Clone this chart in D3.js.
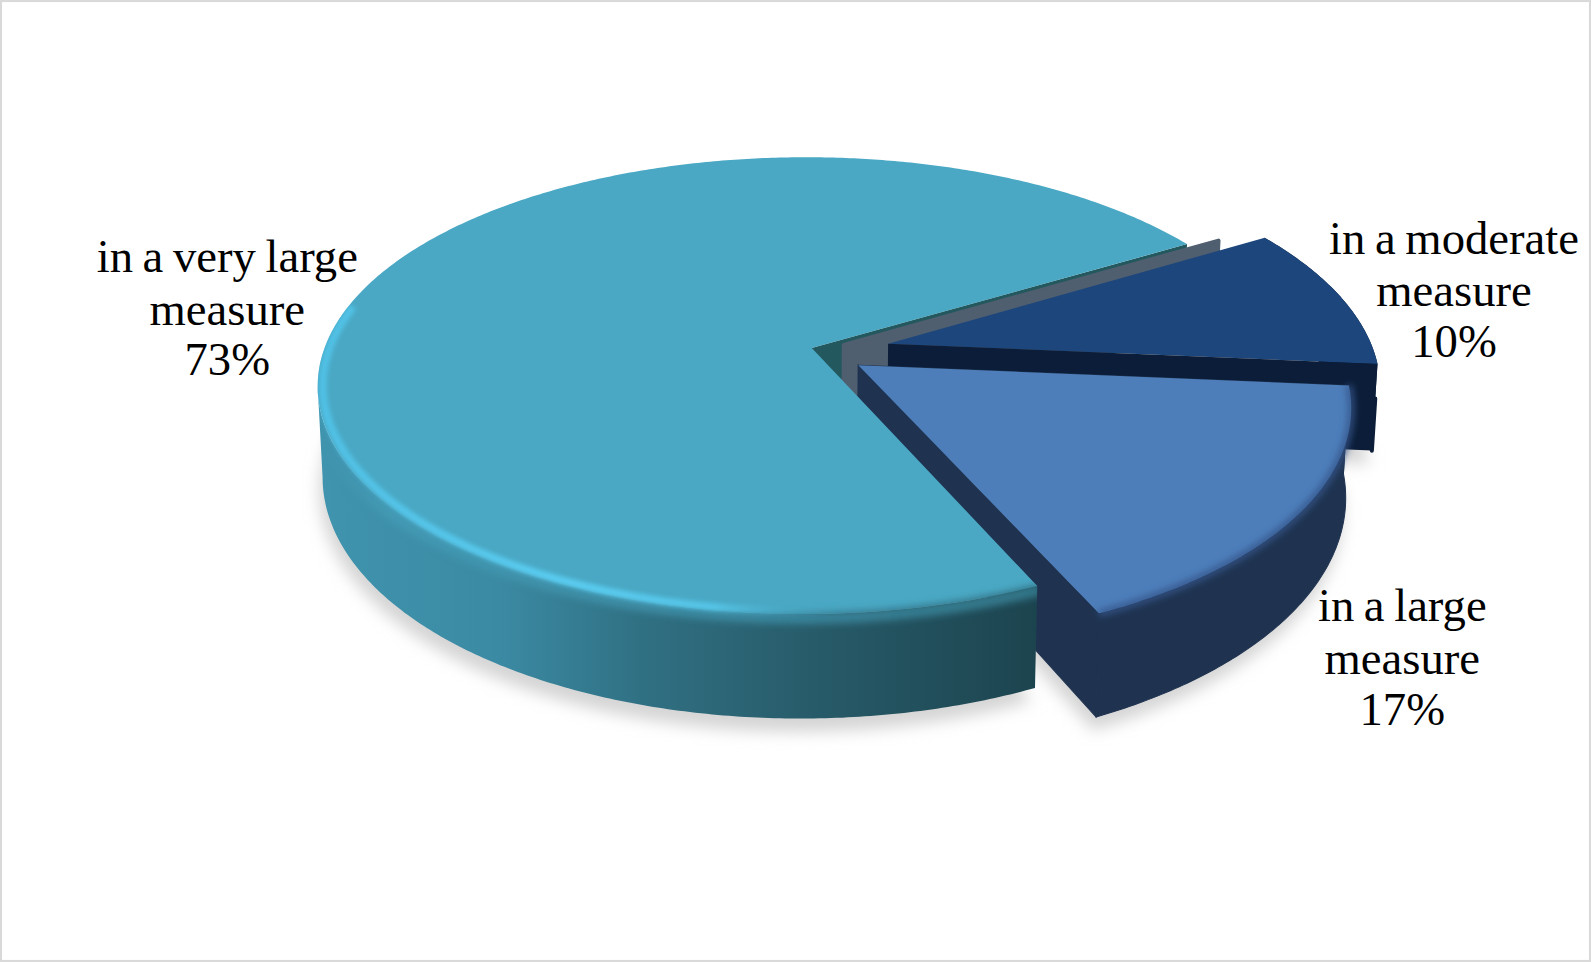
<!DOCTYPE html>
<html>
<head>
<meta charset="utf-8">
<script src="https://cdn.jsdelivr.net/npm/d3@7"></script>
<style>
	html, body { margin: 0; padding: 0; background: #fff; }
	svg { display: block; }
	text { font-family: "Liberation Serif", serif; font-size: 46px; fill: #000; text-anchor: middle; word-spacing: -2px; }
</style>
</head>
<body>
<svg id="chart"></svg>
<script>
var categories = ["in a very large measure", "", "in a moderate measure", "in a large measure"];
var values = [73, 0, 10, 17];

var labelLines = [
	["in a very large", "measure"],
	[],
	["in a moderate", "measure"],
	["in a large", "measure"]
];

// picture is laid out at 1568 wide, viewBox scales it to the window
var svg = d3.select("#chart")
	.attr("width", 1591)
	.attr("height", 963)
	.attr("viewBox", "0 0 1568 949");

// tilted disc: unit circle to screen with a bit of perspective
var cx = 800, cy = 343, ax = 473, by = 219, perspY = 0.1645, perspX = -0.015, depth = 86, shrink = 0.01;
var startDeg = 156.3;

// how far each slice is pulled out, in disc units, and its radius
var offsets = [
	{x: 0, y: 0, r: 1},
	{x: 0.067, y: -0.014, r: 1.01},
	{x: 0.16, y: -0.02, r: 1.03},
	{x: 0.096, y: 0.076, r: 1.015}
];
var labelPos = [
	{x: 224, y: 268},
	null,
	{x: 1433, y: 250},
	{x: 1382, y: 612}
];
var rowGaps = [0, 52, 102];

var topColors = ["#4aa8c4", "#4f5f70", "#1c467c", "#4d7eba"];
var sideColors = ["url(#mainSide)", "#4f5f70", "#0b1d38", "#1f3350"];
var wallColors = ["#24585f", "#4f5f70", "#0b1d38", "#1f3350"];

var pie = d3.pie()
	.sort(null)
	.startAngle(startDeg * Math.PI / 180)
	.endAngle((startDeg + 360) * Math.PI / 180);
var slices = pie(values);

function project(angle, r, off, z) {
	var X = off.x + r * off.r * Math.sin(angle);
	var Y = off.y - r * off.r * Math.cos(angle);
	var w = 1 - perspY * Y - perspX * X;
	return [
		cx + ax * X / w * (1 - shrink * z),
		cy + by * Y / w + z * depth / w
	];
}

function arcPoints(a0, a1, off, z, r) {
	var n = Math.max(2, Math.ceil(Math.abs(a1 - a0) / 0.01));
	return d3.range(n + 1).map(function(i) {
		return project(a0 + (a1 - a0) * i / n, r === undefined ? 1 : r, off, z);
	});
}

var line = d3.line();

function topPath(s, off) {
	return line([project(0, 0, off, 0)].concat(arcPoints(s.startAngle, s.endAngle, off, 0))) + "Z";
}
function footPath(s, off) {
	return line([project(0, 0, off, 1)].concat(arcPoints(s.startAngle, s.endAngle, off, 1))) + "Z";
}
function sidePath(a0, a1, off) {
	return line(arcPoints(a0, a1, off, 0).concat(arcPoints(a1, a0, off, 1))) + "Z";
}
function wallPath(angle, off) {
	return line([
		project(0, 0, off, 0),
		project(angle, 1, off, 0),
		project(angle, 1, off, 1),
		project(0, 0, off, 1)
	]) + "Z";
}

var defs = svg.append("defs");

function hGradient(id, stops) {
	var g = defs.append("linearGradient")
		.attr("id", id)
		.attr("gradientUnits", "userSpaceOnUse")
		.attr("x1", 315).attr("x2", 1022).attr("y1", 0).attr("y2", 0);
	stops.forEach(function(d) {
		g.append("stop").attr("offset", d[0]).attr("stop-color", d[1]).attr("stop-opacity", d[2] === undefined ? 1 : d[2]);
	});
}
hGradient("mainSide", [[0, "#4094ae"], [0.25, "#3b8aa3"], [0.45, "#307083"], [0.7, "#275a68"], [1, "#1c444f"]]);
hGradient("mainEdge", [[0, "#459ab5", 0], [0.1, "#439ab4"], [0.45, "#3c8ca4"], [0.7, "#388197"], [1, "#337689"]]);
hGradient("mainGlow", [[0, "#50c0e4"], [0.35, "#5accf0"], [0.55, "#55c4e6"], [0.72, "#4aa8c4", 0], [1, "#4aa8c4", 0]]);

function blur(id, dev) {
	defs.append("filter").attr("id", id)
		.attr("x", "-10%").attr("y", "-10%").attr("width", "120%").attr("height", "120%")
		.append("feGaussianBlur").attr("stdDeviation", dev);
}
blur("soft", 8);
blur("rimBlur", 3.5);
blur("glowBlur", 2.2);

// page frame
svg.append("rect")
	.attr("x", 1).attr("y", 1).attr("width", 1566).attr("height", 946)
	.attr("fill", "#fff").attr("stroke", "#d9d9d9").attr("stroke-width", 2);

// shadow under the pie
var shadow = svg.append("g")
	.attr("filter", "url(#soft)")
	.attr("transform", "translate(-3,13)");
[0, 2, 3].forEach(function(i) {
	shadow.append("path").attr("d", footPath(slices[i], offsets[i])).attr("fill", "#d4d4d4");
});

// walls at the back go first, main slice comes last so it covers the rest
svg.append("path").attr("d", wallPath(slices[0].endAngle, offsets[0])).attr("fill", wallColors[0]);
svg.append("path").attr("d", wallPath(slices[1].startAngle, offsets[1])).attr("fill", wallColors[1])
	.attr("stroke", wallColors[1]).attr("stroke-width", 4).attr("stroke-linejoin", "round");

// moderate slice, rounded lower corner like the bevel in the picture
var mod = slices[2], modOff = offsets[2];
svg.append("path").attr("d", sidePath(mod.startAngle, mod.endAngle, modOff)).attr("fill", sideColors[2]);
svg.append("path")
	.attr("d", line([project(mod.endAngle, 1, modOff, 0.4)].concat(arcPoints(mod.endAngle, mod.endAngle - 0.2, modOff, 1))))
	.attr("fill", "none").attr("stroke", sideColors[2]).attr("stroke-width", 4)
	.attr("stroke-linecap", "round").attr("stroke-linejoin", "round");
svg.append("path").attr("d", topPath(mod, modOff)).attr("fill", topColors[2]);
svg.append("path").attr("d", wallPath(mod.endAngle, modOff)).attr("fill", wallColors[2]);

// large slice
var big = slices[3], bigOff = offsets[3];
var bigBody = svg.append("g").attr("fill", wallColors[3]).attr("stroke", wallColors[3]).attr("stroke-width", 1);
bigBody.append("path").attr("d", wallPath(big.startAngle, bigOff));
bigBody.append("path").attr("d", wallPath(big.endAngle, bigOff));
bigBody.append("path").attr("d", sidePath(big.startAngle, big.endAngle, bigOff));
svg.append("path").attr("d", topPath(big, bigOff)).attr("fill", topColors[3]);
svg.append("path")
	.attr("d", line(arcPoints(big.startAngle, big.endAngle, bigOff, 0)))
	.attr("fill", "none").attr("stroke", "#34558a").attr("stroke-width", 6)
	.attr("filter", "url(#rimBlur)");

// main slice, side ends at the left silhouette point of the disc
var main = slices[0], mainOff = offsets[0];
var frontEnd = 260.5 * Math.PI / 180;
var mainClip = defs.append("clipPath").attr("id", "mainClip");
mainClip.append("path").attr("d", sidePath(main.startAngle, frontEnd, mainOff));
mainClip.append("path").attr("d", topPath(main, mainOff));

svg.append("path").attr("d", sidePath(main.startAngle, frontEnd, mainOff)).attr("fill", sideColors[0]);
svg.append("path").attr("d", topPath(main, mainOff)).attr("fill", topColors[0]);

var mainRim = svg.append("g").attr("clip-path", "url(#mainClip)");
mainRim.append("path")
	.attr("d", line(arcPoints(main.startAngle, 245 * Math.PI / 180, mainOff, 0, 1.012)))
	.attr("fill", "none").attr("stroke", "url(#mainEdge)").attr("stroke-width", 12)
	.attr("filter", "url(#rimBlur)");
mainRim.append("path")
	.attr("d", line(arcPoints(170 * Math.PI / 180, 281 * Math.PI / 180, mainOff, 0, 0.99)))
	.attr("fill", "none").attr("stroke", "url(#mainGlow)").attr("stroke-width", 8)
	.attr("filter", "url(#glowBlur)");

// labels
var labels = svg.append("g").selectAll("g")
	.data(slices.filter(function(d) { return d.value > 0; }))
	.enter().append("g");
labels.each(function(d) {
	var p = labelPos[d.index], g = d3.select(this);
	var rows = labelLines[d.index].concat([d.value + "%"]);
	rows.forEach(function(t, i) {
		g.append("text").attr("x", p.x).attr("y", p.y + rowGaps[i]).text(t);
	});
});
</script>
</body>
</html>
